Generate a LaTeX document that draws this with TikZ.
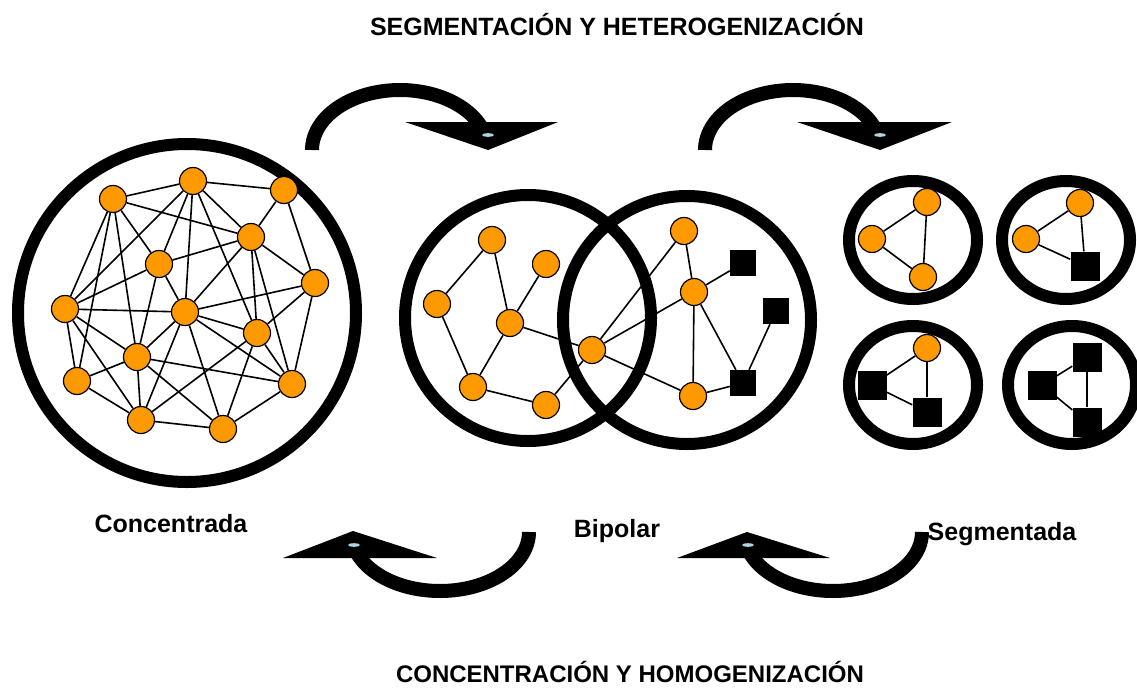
\documentclass[tikz,border=0pt]{standalone}
\usepackage{fontspec}
\setmainfont{Liberation Sans}
\usetikzlibrary{shapes.geometric}
\definecolor{nodeorange}{RGB}{255,153,0}
\definecolor{glint}{RGB}{170,215,225}
\begin{document}
\begin{tikzpicture}[x=1pt,y=-1pt,
  dot/.style={circle,fill=nodeorange,draw=black,line width=1.2pt,minimum size=27pt,inner sep=0pt},
  sq/.style={rectangle,fill=black,minimum size=26pt,inner sep=0pt},
  bigsq/.style={sq,minimum size=29pt},
  ring/.style={circle,draw=black,line width=12pt,inner sep=0pt},
  oring/.style={ellipse,draw=black,line width=12pt,inner sep=0pt,minimum width=128pt,minimum height=118pt},
  link/.style={draw=black,line width=1.6pt},
  bent/.style={draw=black,line width=14pt},
  head/.style={fill=black},
  lbl/.style={font=\bfseries\fontsize{25}{30}\selectfont,anchor=base,inner sep=0pt}
]
\useasboundingbox (0,0) rectangle (1137,688);

% ---------- rings ----------
\node[ring,minimum size=338pt] (R0) at (187,313) {};
\node[ring,minimum size=246pt] (RB1) at (528,318) {};
\node[ring,minimum size=248pt] (RB2) at (687,320) {};
\node[oring] (S1) at (913,240) {};
\node[oring] (S2) at (1066,240) {};
\node[oring] (S3) at (913,385) {};
\node[oring] (S4) at (1072,385) {};

% ---------- concentrated network ----------
\node[dot] (L1) at (113,199) {};
\node[dot] (L2) at (193,181) {};
\node[dot] (L3) at (284,190) {};
\node[dot] (L4) at (251,237) {};
\node[dot] (L5) at (159,264) {};
\node[dot] (L6) at (315,283) {};
\node[dot] (L7) at (65,309) {};
\node[dot] (L8) at (185,312) {};
\node[dot] (L9) at (257,333) {};
\node[dot] (L10) at (137,357) {};
\node[dot] (L11) at (77,381) {};
\node[dot] (L12) at (292,384) {};
\node[dot] (L13) at (141,420) {};
\node[dot] (L14) at (223,429) {};
\foreach \a/\b in {L1/L2,L2/L3,L1/L4,L1/L5,L1/L7,L1/L11,L1/L10,L2/L7,L2/L5,L2/L8,L2/L4,L2/L9,
  L3/L4,L3/L6,L4/L5,L4/L8,L4/L9,L4/L6,L4/L12,L5/L7,L5/L8,L5/L10,L6/L8,L6/L9,L6/L12,
  L7/L8,L7/L11,L7/L10,L7/L13,L8/L9,L8/L13,L8/L14,L8/L12,L8/L10,L9/L13,L9/L14,L9/L12,
  L10/L11,L10/L13,L10/L12,L10/L14,L11/L13,L13/L14,L14/L12}
  \draw[link] (\a) -- (\b);

% ---------- bipolar network ----------
\node[dot] (Ba) at (492,240) {};
\node[dot] (Bb) at (546,264) {};
\node[dot] (Bc) at (437,304) {};
\node[dot] (Bd) at (510,323) {};
\node[dot] (Be) at (473,387) {};
\node[dot] (Bf) at (546,405) {};
\node[dot] (Bg) at (592,350) {};
\node[dot] (Bh) at (684,231) {};
\node[dot] (Bi) at (694,292) {};
\node[dot] (Bj) at (693,396) {};
\node[sq] (Q1) at (743,263) {};
\node[sq] (Q2) at (776,311) {};
\node[sq] (Q3) at (743,383) {};
\foreach \a/\b in {Ba/Bc,Ba/Bd,Bb/Bd,Bc/Be,Bd/Be,Bd/Bg,Be/Bf,Bf/Bg,Bg/Bh,Bg/Bi,Bg/Bj,
  Bh/Bi,Bi/Q1,Bi/Bj,Bi/Q3,Q2/Q3,Bj/Q3}
  \draw[link] (\a) -- (\b);

% ---------- segmented networks ----------
\node[dot] (A1) at (927,202) {};
\node[dot] (A2) at (872,239) {};
\node[dot] (A3) at (923,277) {};
\node[dot] (B1) at (1080,203) {};
\node[dot] (B2) at (1026,239) {};
\node[bigsq] (B3) at (1085,266) {};
\node[dot] (C1) at (927,348) {};
\node[bigsq] (C2) at (872,385) {};
\node[bigsq] (C3) at (927,412) {};
\node[bigsq] (D1) at (1087,357) {};
\node[bigsq] (D2) at (1042,385) {};
\node[bigsq] (D3) at (1087,422) {};
\foreach \p in {A,B,C,D}{
  \draw[link] (\p1) -- (\p2);
  \draw[link] (\p2) -- (\p3);
  \draw[link] (\p1) -- (\p3);
}

% ---------- curved arrows ----------
\draw[bent] plot[domain=180:20,samples=60,variable=\t] ({400+88*cos(\t)},{150-60*sin(\t)});
\fill[head] (405,122) -- (558,122) -- (488,150) -- cycle;
\fill[glint] (488,135) ellipse [x radius=6pt,y radius=1.8pt];

\draw[bent] plot[domain=180:20,samples=60,variable=\t] ({793+88*cos(\t)},{150-60*sin(\t)});
\fill[head] (797,122) -- (952,122) -- (880,150) -- cycle;
\fill[glint] (880,135) ellipse [x radius=6pt,y radius=1.8pt];

\draw[bent] plot[domain=0:160,samples=60,variable=\t] ({440+89*cos(\t)},{532+59*sin(\t)});
\fill[head] (283,558) -- (437,558) -- (353,531) -- cycle;
\fill[glint] (354,545) ellipse [x radius=6pt,y radius=1.8pt];

\draw[bent] plot[domain=0:160,samples=60,variable=\t] ({833+89*cos(\t)},{532+59*sin(\t)});
\fill[head] (677,558) -- (830,558) -- (747,532) -- cycle;
\fill[glint] (748,545) ellipse [x radius=6pt,y radius=1.8pt];

% ---------- texts ----------
\node[lbl] (T1) at (617,35) {SEGMENTACIÓN Y HETEROGENIZACIÓN};
\node[lbl,font=\bfseries\fontsize{24}{29}\selectfont] (T2) at (630,682) {CONCENTRACIÓN Y HOMOGENIZACIÓN};
\node[lbl] (LC) at (171,532) {Concentrada};
\node[lbl] (LB) at (617,537) {Bipolar};
\node[lbl] (LS) at (1002,540) {Segmentada};
\end{tikzpicture}
\end{document}
